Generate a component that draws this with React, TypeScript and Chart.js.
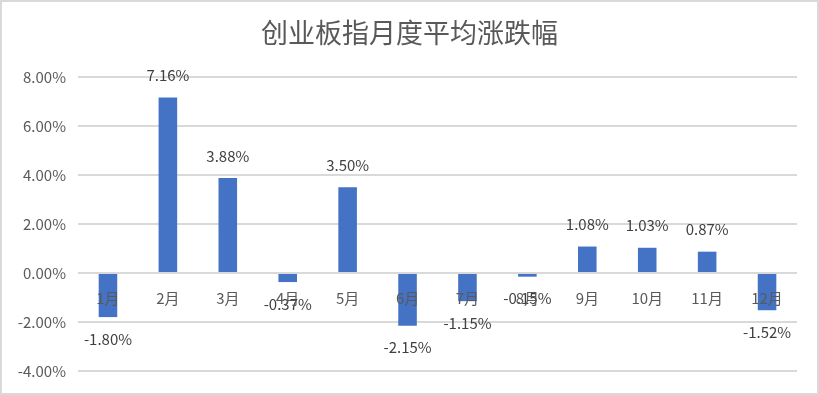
import React, { useEffect, useRef } from "react";
import { Chart, registerables } from "chart.js";

Chart.register(...registerables);

const TITLE = "创业板指月度平均涨跌幅";
const CATEGORIES = ["1月", "2月", "3月", "4月", "5月", "6月", "7月", "8月", "9月", "10月", "11月", "12月"];
const VALUES = [-1.8, 7.16, 3.88, -0.37, 3.5, -2.15, -1.15, -0.15, 1.08, 1.03, 0.87, -1.52];
const Y_MIN = -4;
const Y_MAX = 8;
const Y_STEP = 2;

const FONT = "'Noto Sans CJK SC', 'Noto Sans', sans-serif";

const framePlugin = {
  id: "frame",
  beforeDraw(chart: any) {
    const { ctx, width, height } = chart;
    ctx.save();
    ctx.fillStyle = "#ffffff";
    ctx.fillRect(0, 0, width, height);
    ctx.strokeStyle = "#d9d9d9";
    ctx.lineWidth = 2;
    ctx.strokeRect(1, 1, width - 2, height - 2);
    ctx.fillStyle = "#595959";
    ctx.font = `27px ${FONT}`;
    ctx.textAlign = "center";
    ctx.textBaseline = "middle";
    ctx.fillText(TITLE, width / 2, 33);
    ctx.restore();
  },
};

const labelPlugin = {
  id: "valueLabels",
  afterDatasetsDraw(chart: any) {
    const { ctx } = chart;
    const meta = chart.getDatasetMeta(0);
    ctx.save();
    ctx.fillStyle = "#404040";
    ctx.font = `15px ${FONT}`;
    ctx.textAlign = "center";
    ctx.textBaseline = "middle";
    meta.data.forEach((bar: any, i: number) => {
      const v = VALUES[i];
      const y = v >= 0 ? bar.y - 22 : bar.y + 22;
      ctx.fillText(v.toFixed(2) + "%", bar.x, y);
    });
    ctx.restore();
  },
};

export default function App() {
  const ref = useRef<HTMLCanvasElement | null>(null);
  useEffect(() => {
    if (!ref.current) return;
    const chart = new Chart(ref.current, {
      type: "bar",
      data: {
        labels: CATEGORIES,
        datasets: [
          {
            data: VALUES,
            backgroundColor: "#4472C4",
            barPercentage: 0.31,
            categoryPercentage: 1,
          },
        ],
      },
      options: {
        animation: false,
        responsive: false,
        maintainAspectRatio: false,
        layout: { padding: { left: 0, right: 22, top: 77, bottom: 24 } },
        plugins: {
          legend: { display: false },
          title: { display: false },
          tooltip: { enabled: false },
        },
        scales: {
          x: {
            position: { y: 0 } as any,
            grid: { display: false, drawTicks: false },
            border: { display: false },
            ticks: {
              z: 1,
              color: "#595959",
              font: { family: FONT, size: 15 },
              padding: 16,
              maxRotation: 0,
              autoSkip: false,
            },
          },
          y: {
            min: Y_MIN,
            max: Y_MAX,
            afterFit: (scale: any) => {
              scale.width = 78;
            },
            grid: { color: "#d9d9d9", lineWidth: 2, drawTicks: false },
            border: { display: false },
            ticks: {
              stepSize: Y_STEP,
              color: "#595959",
              font: { family: FONT, size: 15 },
              padding: 12,
              callback: (v: any) => Number(v).toFixed(2) + "%",
            },
          },
        },
      },
      plugins: [framePlugin, labelPlugin],
    });
    return () => chart.destroy();
  }, []);
  return (
    <div style={{ position: "absolute", left: 0, top: 0, width: 819, height: 395 }}>
      <canvas ref={ref} width={819} height={395} style={{ display: "block" }} />
    </div>
  );
}
